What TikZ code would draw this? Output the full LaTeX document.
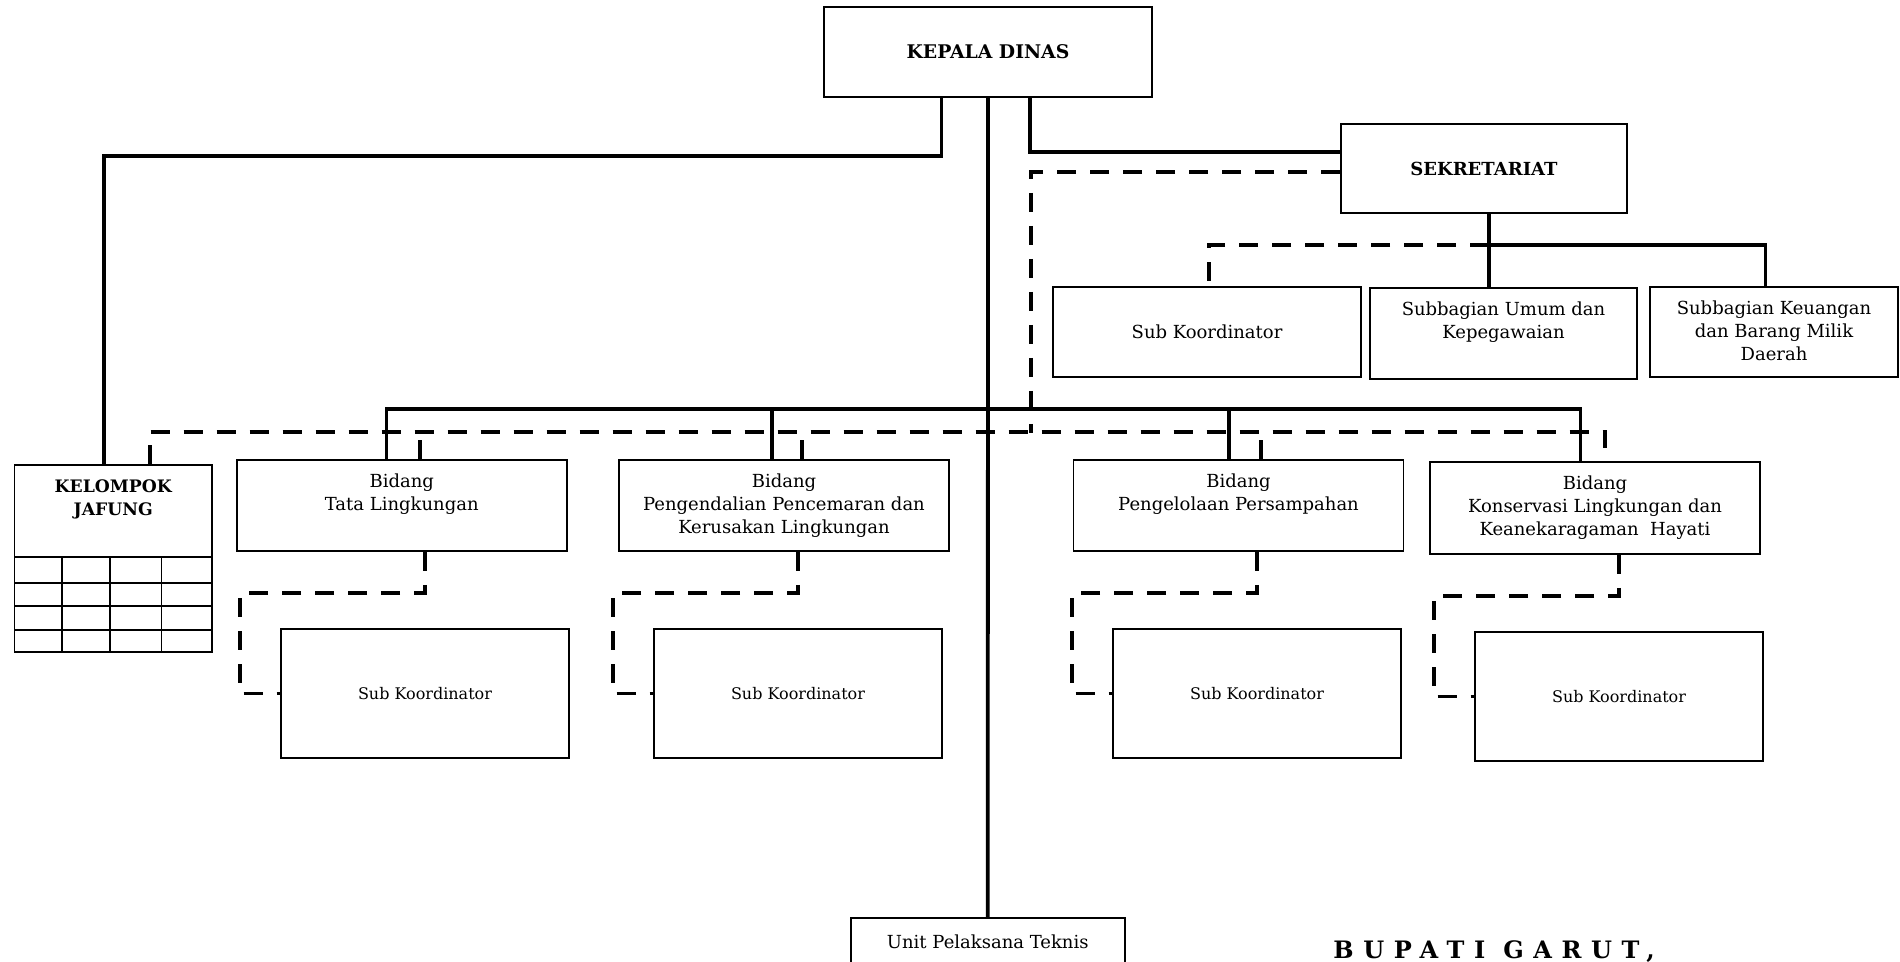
\documentclass[tikz,border=0pt]{standalone}
\usepackage{fontspec}
\setmainfont{DejaVu Serif}
\newfontfamily\spacedfont[LetterSpace=40]{DejaVu Serif}

% text block that starts near the top of a box of given height
\newcommand{\toplines}[2]{\vbox to #1{\vskip 5.75pt\hbox{\begin{tabular}{@{}c@{}}#2\end{tabular}}\vfil}}

\begin{document}
\begin{tikzpicture}[
        x=0.5pt, y=-0.5pt,
        box/.style={rectangle, draw, line width=0.8pt, inner sep=0pt, font=\fontsize{9}{11.5}\selectfont},
        headbox/.style={box, font=\fontsize{9.4}{11.5}\selectfont\bfseries},
        bidbox/.style={box, minimum width=165pt, minimum height=45.5pt},
        subbox/.style={box, minimum width=144pt, minimum height=64.5pt, font=\fontsize{8}{10}\selectfont},
        link/.style={line width=1.9pt},
        dashlink/.style={line width=1.9pt, dash pattern=on 9.5pt off 7pt},
        gridline/.style={line width=0.8pt}
    ]
        \useasboundingbox (0,0) rectangle (1900,962);
        \clip (0,0) rectangle (1900,962);

        % Top
        \node[headbox, minimum width=164pt, minimum height=45pt] (kepala) at (988,52) {KEPALA DINAS};

        % Sekretariat
        \node[headbox, minimum width=143pt, minimum height=44.5pt, font=\fontsize{9}{11.5}\selectfont\bfseries] (sekretariat) at (1484,168.5) {SEKRETARIAT};
        \node[box, minimum width=154pt, minimum height=45pt] (subsek) at (1207,332) {Sub Koordinator};
        \node[box, minimum width=133.5pt, minimum height=45.5pt] (umum) at (1503.5,333.5) {\toplines{45.5pt}{Subbagian Umum dan\\Kepegawaian}};
        \node[box, minimum width=124pt, minimum height=45pt] (keuangan) at (1774,332) {\toplines{45pt}{Subbagian Keuangan\\dan Barang Milik\\Daerah}};

        % Kelompok Jafung
        \node[headbox, minimum width=98.75pt, minimum height=93.5pt, font=\fontsize{8.6}{11.5}\selectfont\bfseries] (kelompok) at (113.25,558.5) {\toplines{93.5pt}{KELOMPOK\\JAFUNG}};
        \foreach \gy in {556.7,583,606,629.7}
            \draw[gridline] (14.5,\gy) -- (212,\gy);
        \foreach \gx in {62,110,161.5}
            \draw[gridline] (\gx,556.7) -- (\gx,652);

        % Bidang
        \node[bidbox] (tata) at (401.75,505.5) {\toplines{45.5pt}{Bidang\\Tata Lingkungan}};
        \node[bidbox] (pengendalian) at (784,505.5) {\toplines{45.5pt}{Bidang\\Pengendalian Pencemaran dan\\Kerusakan Lingkungan}};
        \node[bidbox] (pengelolaan) at (1238.5,505.5) {\toplines{45.5pt}{Bidang\\Pengelolaan Persampahan}};
        \node[bidbox, minimum height=46pt] (konservasi) at (1595,508) {\toplines{46pt}{Bidang\\Konservasi Lingkungan dan\\Keanekaragaman\ \ Hayati}};

        % Sub Koordinator
        \node[subbox] (subtata) at (425,693.5) {Sub Koordinator};
        \node[subbox] (subpengendalian) at (798,693.5) {Sub Koordinator};
        \node[subbox] (subpengelolaan) at (1257,693.5) {Sub Koordinator};
        \node[subbox] (subkonservasi) at (1619,696.5) {Sub Koordinator};

        % UPT
        \node[box, minimum width=137pt, minimum height=24pt] (upt) at (987.75,942) {Unit Pelaksana Teknis};

        \node[font=\spacedfont\bfseries\fontsize{12}{14}\selectfont, anchor=base west, inner sep=0pt] (bupati) at (1333,958) {BUPATI GARUT,};

        % Solid lines
        \draw[link] ([xshift=-23.25pt]kepala.south) -- ++(0,58) -| ([xshift=-4.6pt]kelompok.north);
        \draw[link] (kepala.south) -- (upt.north);
        \draw[link] ([xshift=21pt]kepala.south) |- ([yshift=8.25pt]sekretariat.west);
        \draw[link] ([xshift=-7.6pt]tata.north) -- ++(0,-50.4) -| ([xshift=-7.25pt]konservasi.north);
        \foreach \bd/\dx in {pengendalian/-6pt, pengelolaan/-4.75pt}
            \draw[link] ([xshift=\dx]\bd.north) -- ++(0,-50.4);
        \draw[link] ([xshift=2.5pt]sekretariat.south) -- ([xshift=-7.25pt]umum.north);
        \draw[link] ([xshift=2.5pt]sekretariat.south) -- ++(0,31.5) -| ([xshift=-4.25pt]keuangan.north);

        % Dashed lines
        \coordinate (dashjoin) at (1031,432.6);
        \draw[dashlink] ([yshift=-1.75pt]sekretariat.west) -| (dashjoin);
        \draw[dashlink] ([xshift=18.4pt]kelompok.north) -- ++(0,-32.4) -| ([xshift=5pt]konservasi.north);
        \foreach \bd/\dx in {tata/9.1pt, pengendalian/9pt, pengelolaan/11.25pt}
            \draw[dashlink] ([xshift=\dx]\bd.north) -- ++(0,-27.4);
        \draw[dashlink] ([xshift=2.5pt, yshift=-15.75pt]sekretariat.south) -| ([xshift=1pt]subsek.north);
        \foreach \bd/\sk in {tata/subtata, pengendalian/subpengendalian, pengelolaan/subpengelolaan, konservasi/subkonservasi}
            \draw[dashlink] (\sk.north |- \bd.south) -- ++(0,41) -| ([xshift=-20pt]\sk.west) -- (\sk.west);
    \end{tikzpicture}
\end{document}
